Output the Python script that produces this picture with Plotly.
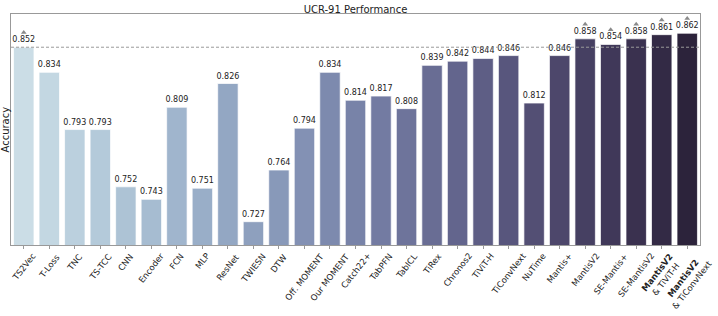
import colorsys
import numpy as np
import plotly.graph_objects as go

# ---------------- data ----------------
models = [
    "TS2Vec", "T-Loss", "TNC", "TS-TCC", "CNN", "Encoder", "FCN", "MLP", "ResNet",
    "TWIESN", "DTW", "Off. MOMENT", "Our MOMENT", "Catch22+", "TabPFN", "TabICL",
    "TiRex", "Chronos2", "TiViT-H", "TiConvNext", "NuTime", "Mantis+", "MantisV2",
    "SE-Mantis+", "SE-MantisV2", "MantisV2 & TiViT-H", "MantisV2 & TiConvNext",
]
tick_labels = [
    "TS2Vec", "T-Loss", "TNC", "TS-TCC", "CNN", "Encoder", "FCN", "MLP", "ResNet",
    "TWIESN", "DTW", "Off. MOMENT", "Our MOMENT", "Catch22+", "TabPFN", "TabICL",
    "TiRex", "Chronos2", "TiViT-H", "TiConvNext", "NuTime", "Mantis+", "MantisV2",
    "SE-Mantis+", "SE-MantisV2", "<b>MantisV2</b><br>& TiViT-H", "<b>MantisV2</b><br>& TiConvNext",
]
accuracy = [
    0.852, 0.834, 0.793, 0.793, 0.752, 0.743, 0.809, 0.751, 0.826,
    0.727, 0.764, 0.794, 0.834, 0.814, 0.817, 0.808,
    0.839, 0.842, 0.844, 0.846, 0.812, 0.846, 0.858,
    0.854, 0.858, 0.861, 0.862,
]
marked = [
    True, False, False, False, False, False, False, False, False,
    False, False, False, False, False, False, False,
    False, False, False, False, False, False, True,
    True, True, True, True,
]
reference_value = accuracy[0]

# ---------------- colours (seaborn "ch:s=.25,rot=-.25", desaturated 0.75) ----------------
def cubehelix(n, start=0.25, rot=-0.25, gamma=1.0, hue=0.8, light=0.85, dark=0.15):
    out = []
    for x in np.linspace(light, dark, n):
        xg = x ** gamma
        a = hue * xg * (1 - xg) / 2
        phi = 2 * np.pi * (start / 3 + rot * x)
        r = xg + a * (-0.14861 * np.cos(phi) + 1.78277 * np.sin(phi))
        g = xg + a * (-0.29227 * np.cos(phi) - 0.90649 * np.sin(phi))
        b = xg + a * (1.97294 * np.cos(phi))
        r, g, b = [min(max(v, 0), 1) for v in (r, g, b)]
        h, l, s = colorsys.rgb_to_hls(r, g, b)
        r, g, b = colorsys.hls_to_rgb(h, l, s * 0.75)
        out.append("rgb(%d,%d,%d)" % (round(r * 255), round(g * 255), round(b * 255)))
    return out

colors = cubehelix(len(models))
FONT = "DejaVu Sans"

fig = go.Figure()
fig.add_trace(go.Bar(
    x=models, y=accuracy,
    marker=dict(color=colors, line=dict(color="rgba(255,255,255,0.7)", width=1)),
    text=[f"{v:.3f}" for v in accuracy], texttemplate="%{text}",
    textposition="outside", constraintext="none", cliponaxis=False,
    textfont=dict(family=FONT, size=8, color="#222"),
    hoverinfo="skip",
))
mk_x = [m for m, k in zip(models, marked) if k]
mk_y = [v + 0.0105 for v, k in zip(accuracy, marked) if k]
fig.add_trace(go.Scatter(
    x=mk_x, y=mk_y, mode="markers",
    marker=dict(symbol="triangle-up", size=5, color="#8a8a8a"),
    cliponaxis=False, hoverinfo="skip",
))
fig.add_shape(type="line", xref="paper", x0=0, x1=1, yref="y",
              y0=reference_value, y1=reference_value,
              line=dict(color="#9a9a9a", width=1, dash="3px,2px"), layer="above")

annotations = [dict(text="Accuracy", xref="paper", yref="paper", x=-6 / 689, y=0.5,
                    xanchor="center", yanchor="middle", textangle=-90, showarrow=False,
                    font=dict(family=FONT, size=10, color="#222"))]
# rotated category labels, centred on their tick (matplotlib-style)
for m, lab in zip(models, tick_labels):
    annotations.append(dict(
        text=lab, x=m, xref="x", y=0, yref="paper", yshift=-5,
        xanchor="center", yanchor="top", textangle=-52, showarrow=False,
        align="center", borderpad=0,
        font=dict(family=FONT, size=8.5, color="#222"),
    ))

fig.update_layout(
    width=718, height=316,
    margin=dict(l=11, r=18, t=14, b=71),
    paper_bgcolor="white", plot_bgcolor="white",
    showlegend=False, bargap=0.2,
    font=dict(family=FONT, color="#222"),
    title=dict(text="UCR-91 Performance", x=(11 + 700) / 2 / 718, xanchor="center",
               y=1 - 9.5 / 316, yanchor="middle", yref="container",
               font=dict(family=FONT, size=10, color="#222")),
    annotations=annotations,
)
fig.update_xaxes(
    tickmode="array", tickvals=models, showticklabels=False,
    ticks="outside", ticklen=3, tickcolor="#999", tickwidth=1,
    showline=True, linecolor="#999", linewidth=1, mirror=True,
    range=[-0.5, len(models) - 0.5], showgrid=False, automargin=False,
)
fig.update_yaxes(
    range=[0.7103, 0.8758], showticklabels=False, ticks="", showgrid=False,
    showline=True, linecolor="#999", linewidth=1, mirror=True, zeroline=False,
    automargin=False,
)
fig.write_html("out.html", config={"displayModeBar": False},
               post_script="document.body.style.margin='0';document.body.style.overflow='hidden';")
